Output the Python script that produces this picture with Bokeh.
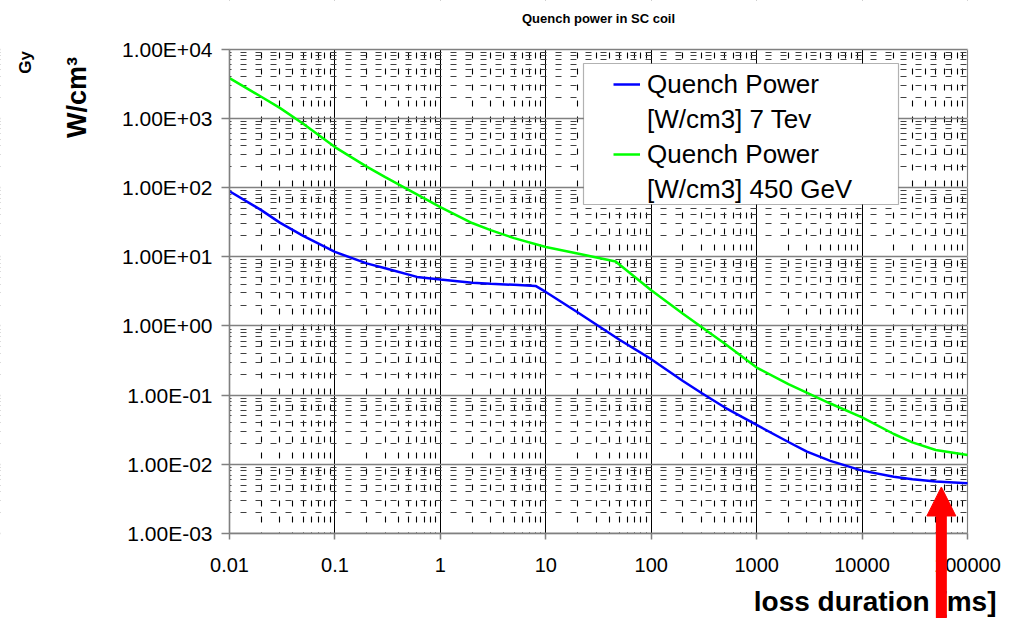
import math
from bokeh.plotting import figure
from bokeh.models import (Range1d, FixedTicker, CustomJSTickFormatter, Legend, LegendItem,
                          Label, BoxAnnotation, Arrow, NormalHead)
from bokeh.embed import file_html
from bokeh.resources import INLINE

# ---- data ----
x_7tev = [0.01, 0.02, 0.03, 0.05, 0.1, 0.2, 0.3, 0.6, 1, 2, 3, 5, 8, 10, 20, 50, 100,
          200, 300, 500, 1000, 2000, 3000, 5000, 10000, 20000, 30000, 50000, 100000]
y_7tev = [88, 47, 31, 20, 11.7, 8.0, 6.8, 5.1, 4.67, 4.2, 4.05, 3.91, 3.78, 3.09, 1.57, 0.63, 0.33,
          0.16, 0.107, 0.066, 0.037, 0.021, 0.0152, 0.0112, 0.0081, 0.0066, 0.0061, 0.00565, 0.0053]

x_450 = [0.01, 0.02, 0.03, 0.05, 0.1, 0.2, 0.3, 0.5, 1, 2, 3, 5, 10, 20, 46, 100,
         200, 500, 1000, 2000, 5000, 10000, 20000, 30000, 50000, 100000]
y_450 = [3800, 2040, 1410, 830, 383, 200, 141, 92, 52, 30.6, 24.2, 18.5, 13.8, 11.1, 8.5, 3.27,
         1.5, 0.55, 0.25, 0.1436, 0.0755, 0.0477, 0.0274, 0.0207, 0.0161, 0.0136]

series_names = ["Quench Power", "[W/cm3] 7 Tev", "Quench Power", "[W/cm3] 450 GeV"]

x_ticks = [0.01, 0.1, 1, 10, 100, 1000, 10000, 100000]
x_tick_labels = ["0.01", "0.1", "1", "10", "100", "1000", "10000", "100000"]
y_ticks = [0.001, 0.01, 0.1, 1, 10, 100, 1000, 10000]
y_tick_labels = ["1.00E-03", "1.00E-02", "1.00E-01", "1.00E+00",
                 "1.00E+01", "1.00E+02", "1.00E+03", "1.00E+04"]

x_minor = [d * m for d in x_ticks[:-1] for m in range(2, 10)]
y_minor = [d * m for d in y_ticks[:-1] for m in range(2, 10)]

# arrow marker (annotation)
arrow_x = 56500
arrow_tip_y = 0.0047
arrow_base_y = 1e-5

FONT = "Liberation Sans"

# ---- layout: the frame fills the canvas; plot area placed by pixel geometry ----
W, H = 1014, 618
PL, PR, PT, PB = 229, 967, 48.5, 533
xlo, xhi = math.log10(x_ticks[0]), math.log10(x_ticks[-1])
ylo, yhi = math.log10(y_ticks[0]), math.log10(y_ticks[-1])
dx = (PR - PL) / (xhi - xlo)
dy = (PB - PT) / (yhi - ylo)
x_range = Range1d(10 ** (xlo - PL / dx), 10 ** (xhi + (W - PR) / dx))
y_range = Range1d(10 ** (ylo - (H - PB) / dy), 10 ** (yhi + PT / dy))

p = figure(width=W, height=H, x_axis_type="log", y_axis_type="log",
           x_range=x_range, y_range=y_range,
           output_backend="svg", toolbar_location=None, min_border=0)
p.outline_line_color = None
p.background_fill_color = "white"
p.border_fill_color = "white"

fmt_code = """
const i = tvals.findIndex(t => Math.abs(Math.log10(t) - Math.log10(tick)) < 1e-6);
return i >= 0 ? tlabels[i] : '';
"""
p.xaxis.ticker = FixedTicker(ticks=x_ticks, minor_ticks=x_minor)
p.yaxis.ticker = FixedTicker(ticks=y_ticks, minor_ticks=y_minor)
p.xaxis.formatter = CustomJSTickFormatter(args=dict(tvals=x_ticks, tlabels=x_tick_labels), code=fmt_code)
p.yaxis.formatter = CustomJSTickFormatter(args=dict(tvals=y_ticks, tlabels=y_tick_labels), code=fmt_code)
p.xgrid.ticker = p.xaxis.ticker
p.ygrid.ticker = p.yaxis.ticker
p.xaxis.fixed_location = y_ticks[0]
p.yaxis.fixed_location = x_ticks[0]
p.xaxis.bounds = (x_ticks[0], x_ticks[-1])
p.yaxis.bounds = (y_ticks[0], y_ticks[-1])

for ax in (p.xaxis[0], p.yaxis[0]):
    ax.axis_line_color = "#808080"
    ax.axis_line_width = 1.5
    ax.major_tick_line_color = "#808080"
    ax.major_tick_line_width = 1.5
    ax.major_tick_in = 0
    ax.minor_tick_line_color = None
    ax.major_label_text_font = FONT
    ax.major_label_text_color = "black"
p.xaxis.major_label_text_font_size = "20px"
p.yaxis.major_label_text_font_size = "21px"
p.xaxis.major_tick_out = 6
p.yaxis.major_tick_out = 8
p.xaxis.major_label_standoff = 18
p.yaxis.major_label_standoff = 9

p.xgrid.grid_line_color = "black"
p.xgrid.grid_line_width = 1
p.xgrid.minor_grid_line_color = "black"
p.xgrid.minor_grid_line_width = 1.1
p.xgrid.minor_grid_line_dash = "6 10"
p.ygrid.grid_line_color = "#808080"
p.ygrid.grid_line_width = 1.5
p.ygrid.minor_grid_line_color = "#404040"
p.ygrid.minor_grid_line_width = 1.2
p.ygrid.minor_grid_line_dash = "6 9"

# white masks outside the plot area (hide grid overflow), then plot-area border
mask = dict(fill_color="white", fill_alpha=1, line_color=None, level="underlay")
p.add_layout(BoxAnnotation(right=x_ticks[0], **mask))
p.add_layout(BoxAnnotation(left=x_ticks[-1], **mask))
p.add_layout(BoxAnnotation(bottom=y_ticks[-1], **mask))
p.add_layout(BoxAnnotation(top=y_ticks[0], **mask))
p.add_layout(BoxAnnotation(left=x_ticks[0], right=x_ticks[-1], bottom=y_ticks[0], top=y_ticks[-1],
                           fill_alpha=0, line_color="#808080", line_width=1.5, level="underlay"))

r_blue = p.line(x_7tev, y_7tev, line_color="#0000FF", line_width=2.5)
r_green = p.line(x_450, y_450, line_color="#00FF00", line_width=2.5)
r_blank1 = p.line(x=[], y=[], line_alpha=0)
r_blank2 = p.line(x=[], y=[], line_alpha=0)

box = BoxAnnotation(left=583, right=898, top=63, bottom=204,
                    left_units="canvas", right_units="canvas", top_units="canvas", bottom_units="canvas",
                    fill_color="white", fill_alpha=1, line_color="black", line_width=1.2)
p.add_layout(box)

legend = Legend(items=[LegendItem(label=series_names[0], renderers=[r_blue]),
                       LegendItem(label=series_names[1], renderers=[r_blank1]),
                       LegendItem(label=series_names[2], renderers=[r_green]),
                       LegendItem(label=series_names[3], renderers=[r_blank2])],
                location=(613, H - 206), padding=0, spacing=1, margin=0,
                border_line_color=None, background_fill_alpha=0,
                label_height=34, glyph_height=34, glyph_width=27, label_standoff=7,
                label_text_font=FONT, label_text_font_size="26px", label_text_color="black")
p.add_layout(legend)

txt = dict(x_units="canvas", y_units="canvas", text_font=FONT, text_font_style="bold",
           text_color="black", text_baseline="middle")
p.add_layout(Label(x=598, y=18, text="Quench power in SC coil", text_font_size="13px",
                   text_align="center", **txt))
p.add_layout(Label(x=25, y=62, text="Gy", angle=math.pi / 2, text_font_size="17px",
                   text_align="center", **txt))
p.add_layout(Label(x=76, y=97, text="W/cm³", angle=math.pi / 2, text_font_size="27px",
                   text_align="center", **txt))
p.add_layout(Label(x=996, y=601, text="loss duration [ms]", text_font_size="28px",
                   text_align="right", **txt))

p.add_layout(Arrow(x_start=arrow_x, y_start=arrow_base_y, x_end=arrow_x, y_end=arrow_tip_y,
                   line_color="red", line_width=11,
                   end=NormalHead(size=29, fill_color="red", line_color="red", line_width=1)))

open("out.html", "w").write(file_html(p, INLINE))
